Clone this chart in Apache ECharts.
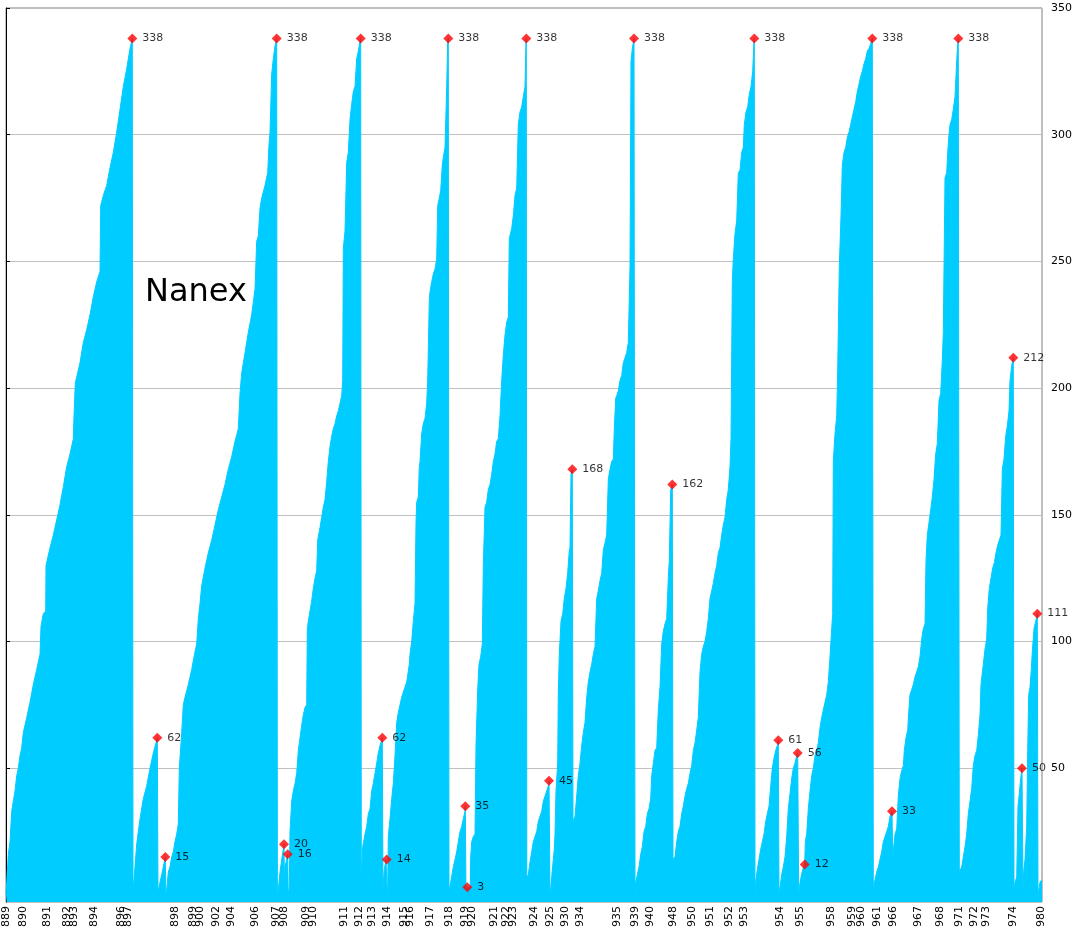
<!DOCTYPE html>
<html><head><meta charset="utf-8">
<script src="https://cdn.jsdelivr.net/npm/echarts@6/dist/echarts.min.js"></script>
<style>html,body{margin:0;padding:0;background:#fff}#c{width:1075px;height:933px}</style>
</head><body><div id="c"></div>
<script>
// sequence position of each sample
const seq = [
0,0.7,2.3,4,5.7,7.3,9,10.7,12.3,14,15.7,17.3,20.7,24,27.3,30.7,34,35,37.3,39.7,40,44,47.3,50.7,54,57.3,60.7,64,67.3,68,69.3,74,77.3,80.7,84,87.3,90.7,94,94.7,97.3,100.7,104,107.3,110.7,114,117.3,120.7,124,126.3,127,
128,130.7,132.3,134,137.3,140.7,144,147.3,150.7,151.3,152,
154,155.7,157.3,159.3,159.8,
160.7,162.3,164,165.7,167.3,169,170.7,172.3,173.3,175.7,177.3,179,182.3,185.7,189,190.7,192.3,194,195.7,199,202.3,205.7,209,212.3,215.7,219,222.3,225.7,229,232.3,234,235.7,239,242.3,245.7,249,250.7,252.3,254,255.7,259,261.7,263,264,265.7,267.3,269,270.7,271.4,
272.3,274,275.7,278,278.5,279,281.7,282.2,283.3,284,285.7,287.3,289,290.7,292.3,294,295.7,297.3,299,300.7,301.3,302.3,304,305.7,307.3,309,310.7,311.7,314,315.7,317.3,319,320.7,322.3,324,325.7,327.3,329,330.7,332.3,334,335.7,336.7,337.3,339,340.7,342.3,344,345.7,347.3,349,350.7,352.3,354,354.7,355.3,
355.7,356.7,359,360.7,362.3,364,365.7,367.3,369,370.7,372.3,374,375.7,376.3,377,
377.3,378.3,380,380.7,381.3,
381.7,382.3,384,385.7,387.3,389,390.7,392.3,394,395.7,397.3,399,400.7,403.3,404,405.7,407.3,409,410,410.7,412.3,413.3,414,415.7,417.3,419,420.7,421.7,423.3,424,425.7,427.3,429,430.7,431.7,433.3,434.7,436.3,437.3,439,440.7,441.7,442.3,443,
443.3,444.7,447.3,449,450.7,452.3,454,455.7,457.3,459,459.3,460,461.3,464.3,
464.7,465.7,467.3,469,470,471.7,473,474.7,476.3,477.3,479,480.7,482.3,484,485.7,487.3,489,490.7,492.3,494,495.7,497.3,499,500.7,502.3,503.3,505.7,507.3,509,510.7,512.3,514,515.7,517.3,519,520,520.3,520.8,
522.3,524,525.7,527.3,529,530.7,532.3,534,535.7,537.3,539,540.7,542.3,543,544,
544.7,545.7,547.3,548.3,549,550,551.7,552.3,553.3,555,556.7,558.3,560,561.7,563.3,564,565,566.3,567,
568,569,570.7,572.3,574,575.7,577.3,579,580.7,582.3,584,585.7,587.3,589,590.7,592.3,594,595.7,597.3,599,600.7,602.3,604,605.7,607.3,608.3,609.7,610.7,612.3,614,615.7,617.3,619,620.7,622.3,624,625,626.3,628,629,
629.7,631.3,633,634.7,636.3,638,639.7,641.3,643,644.7,645.7,647.3,649,650.7,652.3,654,655.7,657.3,659,660.7,662.3,663.3,664.7,666.3,667,
667.7,669,670.7,672.3,674,675.7,677.3,679,680.7,682.3,684,685.7,687.3,689,690.7,692.3,694,695.7,697.3,699,700.7,702.3,704,705.7,707.3,709,710.7,712.3,714,715.7,717.3,719,720.7,722.3,724,725,726.3,727.3,729,730.7,732.3,734,735.7,737.3,738.3,740,741.7,743.3,745,746.7,748,748.3,749,
749.7,751.3,753,754.7,756.3,758,759.7,761.3,763,764.7,766.3,768,769.7,771.3,772.3,773,
774,775.7,777.3,779,780.7,782.3,784,785.7,787.3,789,790.7,791.7,792.7,
793.3,795,796.7,798.7,799.3,800.7,802.3,804,805.7,807.3,809,810.7,812.3,814,815.7,817.3,819,820.7,822.3,824,825.7,826.7,827.3,829,830.7,831.7,833.3,835,836.3,838,839.7,841.3,843,844.7,846.3,848,849.7,851.3,853,854.7,856.3,858,859.7,861.3,863,864.7,866.3,867.3,
869,870.7,872.3,874,875.7,877.3,879,880.7,882.3,884,886,886.7,
887.7,889,890.7,892.3,894,895.7,897.3,898.3,900,901.7,902.7,904,905.7,907.3,909,910.7,912.3,914,915.7,917.3,919,920,921.3,923,924.7,926.3,928,929.7,931.3,933,934.7,936.3,937.3,939,940.7,941.7,943,944,945.7,947.3,949,950.7,951.7,952.3,953.3,
954,955.7,957.3,959,960.7,962.3,964,965.7,967.3,969,970.7,972.3,974,975,977.3,979,980.7,981.7,983.3,985,986.7,988.3,990,991.7,993.3,995,996.3,998,999.7,1001.3,1003,1004,1005.7,1007.3,1008,
1009,1010.7,1012,1013.3,1014.7,1016,1017,
1017.7,1019,1020.7,1021.7,1022.7,1024,1025.3,1026.3,1028,1029.7,1031.3,1032,1034,1036
];
// counter value of each sample
const count = [
0,5,16,21,33,37,41,47,50,55,58,64,70,76,83,89,95,106,111,112,130,137,142,148,154,161,169,174,180,189,202,210,218,223,229,236,242,246,272,276,280,287,293,301,310,319,326,334,338,2,
6,20,25,30,38,43,50,56,61,62,1,
5,8,11,15,0,
2,9,11,15,17,21,24,28,50,64,75,78,83,89,96,99,109,115,122,129,135,140,146,152,157,162,168,173,179,184,198,206,214,222,229,239,258,260,271,275,280,285,296,301,324,330,335,338,0,
2,9,14,20,0,11,16,0,3,25,37,41,44,48,57,62,67,71,74,75,105,108,112,116,121,125,128,140,145,149,153,156,163,171,177,181,184,186,189,191,194,197,203,255,262,289,293,306,312,317,319,330,333,337,338,1,
9,19,24,27,32,34,41,44,48,52,56,59,61,62,0,
5,10,14,14,0,
2,23,30,38,44,55,68,72,75,78,80,82,84,91,95,100,108,115,147,155,157,169,171,182,186,188,194,203,235,238,242,245,247,251,272,275,278,288,291,295,319,337,338,0,
2,5,11,14,17,21,25,27,30,33,35,0,3,3,
15,21,23,24,59,81,91,94,99,130,153,155,160,162,166,171,174,179,180,189,203,213,221,226,228,259,263,268,276,279,304,309,311,315,319,337,338,7,
8,13,17,21,23,25,29,31,33,37,39,41,43,45,0,
2,7,14,18,24,41,52,80,95,108,111,117,121,127,136,137,166,168,29,
30,31,39,47,52,59,64,68,78,84,88,91,95,98,117,120,124,127,136,139,142,164,168,171,172,184,196,197,199,203,205,210,212,214,218,248,329,334,338,0,
5,8,11,16,19,25,27,32,34,38,47,52,57,58,73,82,99,104,107,109,125,132,160,162,14,
14,15,21,25,27,32,35,39,42,44,48,51,57,60,65,70,88,95,98,100,104,109,117,120,123,127,130,135,137,142,146,149,156,160,169,180,242,251,261,266,285,286,293,295,304,309,311,316,319,325,337,338,0,
5,10,14,18,21,24,29,32,35,43,50,54,57,59,61,0,
3,8,11,15,23,34,40,46,50,52,55,56,0,
3,7,10,12,21,24,34,41,47,50,55,57,60,66,70,73,76,79,84,94,105,111,171,182,189,207,248,268,288,293,295,299,301,304,307,310,313,317,320,323,325,328,330,333,334,336,338,2,
6,9,11,14,17,21,23,25,27,31,33,15,
15,24,26,39,46,49,51,57,62,65,72,79,81,83,86,88,90,94,101,105,107,132,142,147,152,157,164,174,178,195,198,211,222,283,285,293,300,304,306,310,315,329,336,338,9,
9,11,15,19,24,32,37,42,51,55,57,63,71,83,91,97,101,113,121,125,129,131,135,138,140,142,168,172,181,185,191,203,209,212,0,
5,7,35,40,46,50,2,
9,14,27,57,79,82,89,96,105,108,111,0,5,6
];
// labelled points (red diamonds)
const peakSeq = [126.3,151.3,159.3,270.7,278,281.7,354.7,376.3,380.7,442.3,459.3,461.3,520.3,543,566.3,628,666.3,748.3,772.3,791.7,798.7,866.3,886,952.3,1007.3,1016,1031.3];
const peakCount = [338,62,15,338,20,16,338,62,14,338,35,3,338,45,168,338,162,338,61,56,12,338,33,338,212,50,111];
// x-axis tick labels and where they sit
const xTickSeq = [0,17,41,61,68,88,115,122,169,187,194,210,225,249,270,278,300,307,338,353,366,381,398,404,424,443,459,466,488,500,507,528,544,559,574,611,629,644,667,686,704,723,738,774,794,825,846,855,871,887,912,934,953,968,980,1007,1035];
const xTickLabels = ['889','890','891','892','893','894','896','897','898','899','900','902','904','906','907','908','909','910','911','912','913','914','915','916','917','918','919','920','921','922','923','924','925','930','934','935','939','940','948','950','951','952','953','954','955','958','959','960','961','966','967','968','971','972','973','974','980'];
const yTicks = [50,100,150,200,250,300,350];

const labelMap = {};
xTickSeq.forEach((v,i)=>{ labelMap[v] = xTickLabels[i]; });

const chart = echarts.init(document.getElementById('c'), null, {renderer:'canvas'});
const FONT = 'DejaVu Sans';
chart.setOption({
  animation: false,
  grid: {left:6, right:33, top:8, bottom:31, show:true, borderColor:'#808080', borderWidth:1,
         backgroundColor:'rgba(0,0,0,0)', outerBoundsMode:'none', containLabel:false},
  graphic: [{type:'text', left:145, top:277, z:10,
    style:{text:'Nanex', font:'32px "DejaVu Sans"', fill:'#000'}}],
  xAxis: {type:'value', min:0, max:1036,
    axisLine:{show:false}, axisTick:{show:false}, splitLine:{show:false},
    axisLabel:{customValues:xTickSeq, rotate:90, margin:4, fontSize:11, fontFamily:FONT, color:'#000',
      hideOverlap:false, formatter: v => (labelMap[v] !== undefined ? labelMap[v] : '')}},
  yAxis: {type:'value', position:'right', min:-2.8, max:350,
    axisLine:{show:true, lineStyle:{color:'#000', width:1}},
    axisTick:{show:true, customValues:yTicks, length:4, lineStyle:{color:'#000'}},
    axisLabel:{customValues:yTicks, margin:9, fontSize:11, fontFamily:FONT, color:'#000'},
    splitLine:{show:true, lineStyle:{color:'#c0c0c0', width:1}}},
  series: [
    {type:'line', data: seq.map((x,i)=>[x, count[i]]), showSymbol:false, symbol:'none',
     sampling:null, lineStyle:{color:'#00CCFF', width:1}, areaStyle:{color:'#00CCFF', opacity:1, origin:'start'},
     z:2, silent:true},
    {type:'scatter', data: peakSeq.map((x,i)=>[x, peakCount[i]]), symbol:'diamond', symbolSize:10,
     itemStyle:{color:'#FF0000'}, z:5,
     label:{show:true, position:'right', distance:5, fontSize:11, fontFamily:FONT, color:'#000',
       formatter: p => String(p.value[1])}}
  ]
});
</script></body></html>
